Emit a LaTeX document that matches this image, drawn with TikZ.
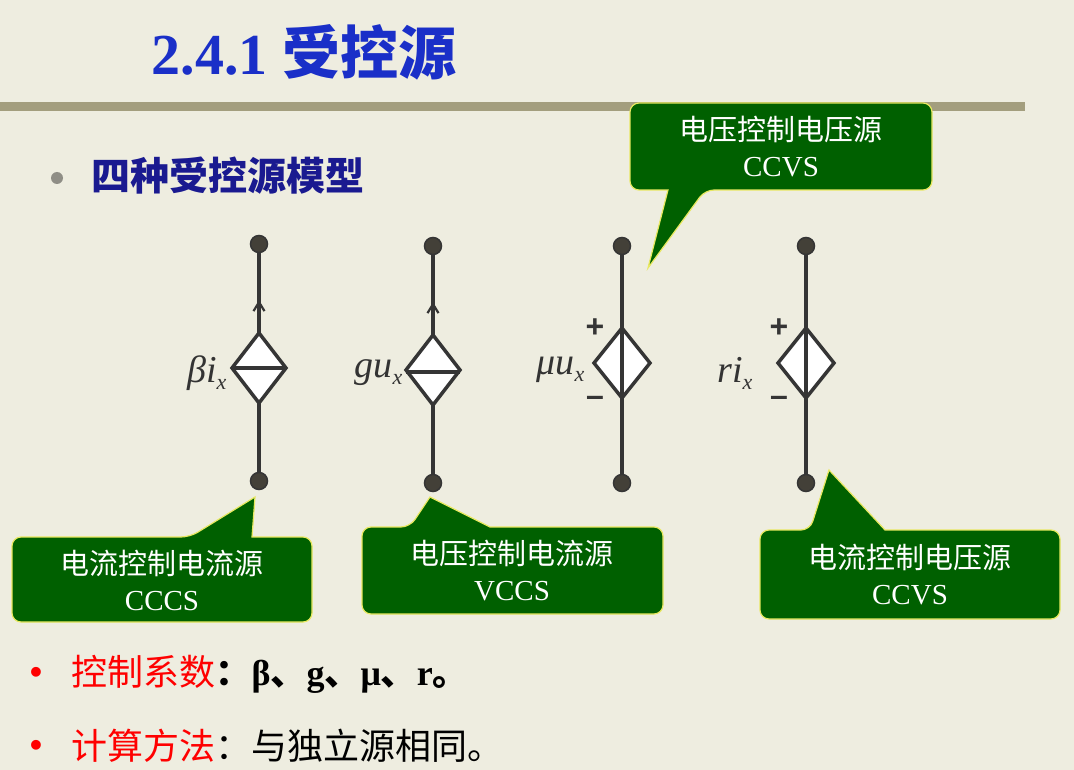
\documentclass[tikz,border=0pt]{standalone}
\usepackage{fontspec}
\setmainfont{Liberation Serif}
\newfontfamily\cjk{Noto Sans CJK SC}
\newfontfamily\lsans{Liberation Sans}
\usetikzlibrary{arrows.meta}
\definecolor{bg}{HTML}{EEEDE0}
\definecolor{bar}{HTML}{A39E7E}
\definecolor{wire}{HTML}{353535}
\definecolor{cgreen}{HTML}{006000}
\definecolor{cedge}{HTML}{E8E860}
\definecolor{tblue}{HTML}{1A2FC8}
\definecolor{dblue}{HTML}{1A1A90}
\tikzset{
  wireline/.style={draw=wire,line width=3.5pt},
  term/.style={circle,fill=black!85!yellow,draw=wire,line width=1.5pt,minimum size=17pt,inner sep=0pt},
  dsrc/.style={draw=wire,fill=white,line width=3.5pt,line join=miter},
  callout/.style={fill=cgreen,draw=cedge,line width=1.2pt},
  ctext/.style={text=white,font=\fontsize{29}{36}\selectfont,align=center},
  lab/.style={font=\fontsize{38}{38}\selectfont\itshape,text=black!80},
  sign/.style={font=\lsans\bfseries\fontsize{32}{32}\selectfont,text=wire},
  uparrow/.style={wire,line width=2.2pt,-{Straight Barb[length=9pt,width=11pt]}}
}
\newcommand{\sublab}[2]{#1\raisebox{-7pt}{\fontsize{22}{22}\selectfont #2}}
\begin{document}
\begin{tikzpicture}[x=1pt,y=-1pt]
\fill[bg] (0,0) rectangle (1074,770);
\useasboundingbox (0,0) rectangle (1074,770);
\node[anchor=west,text=tblue,font=\bfseries\fontsize{58}{58}\selectfont] (title) at (148,52) {2.4.1 {\cjk\bfseries 受控源}};
\fill[bar] (0,102) rectangle (1025,111);
\fill[black!40!bg] (57,178) circle (6);
\node[anchor=west,text=dblue,font=\cjk\bfseries\fontsize{39}{39}\selectfont] (sub) at (88,176) {四种受控源模型};

% source 1 CCCS
\node[term] (t1) at (259,244) {}; \node[term] (b1) at (259,481) {};
\draw[wireline] (t1) -- (259,335); \draw[wireline] (259,401) -- (b1);
\draw[uparrow] (259,322) -- (259,300);
\draw[dsrc] (259,333) -- (286,368) -- (259,403) -- (232,368) -- cycle;
\draw[wire,line width=3.5pt] (232,368) -- (286,368);
\node[lab,anchor=east] (l1) at (230,373) {\sublab{βi}{x}};
% source 2 VCCS
\node[term] (t2) at (433,246) {}; \node[term] (b2) at (433,483) {};
\draw[wireline] (t2) -- (433,337); \draw[wireline] (433,403) -- (b2);
\draw[uparrow] (433,324) -- (433,302);
\draw[dsrc] (433,335) -- (460,370) -- (433,405) -- (406,370) -- cycle;
\draw[wire,line width=3.5pt] (406,372) -- (460,372);
\node[lab,anchor=east] (l2) at (406,373) {\sublab{gu}{x}};
% source 3 VCVS
\node[term] (t3) at (622,246) {}; \node[term] (b3) at (622,483) {};
\draw[dsrc] (622,328) -- (650,363) -- (622,398) -- (594,363) -- cycle;
\draw[wireline] (t3) -- (b3);
\node[lab,anchor=east] (l3) at (588,370) {\sublab{μu}{x}};
\node[sign] (p3) at (595,328) {+}; \node[sign] (m3) at (595,401) {–};
% source 4 CCVS
\node[term] (t4) at (806,246) {}; \node[term] (b4) at (806,483) {};
\draw[dsrc] (806,328) -- (834,363) -- (806,398) -- (778,363) -- cycle;
\draw[wireline] (t4) -- (b4);
\node[lab,anchor=east] (l4) at (756,373) {\sublab{ri}{x}};
\node[sign] (p4) at (779,328) {+}; \node[sign] (m4) at (779,401) {–};

% callouts
\coordinate (k1) at (255,497);
\draw[callout,rounded corners=9pt] (12,537) -- (190,537) [sharp corners] -- (k1) -- (252,537) [rounded corners=9pt] -- (312,537) -- (312,622) -- (12,622) -- cycle;
\node[ctext] (c1) at (162,580) {{\cjk 电流控制电流源}\\CCCS};
\coordinate (k2) at (430,497);
\draw[callout,rounded corners=9pt] (362,527) -- (410,527) [sharp corners] -- (k2) -- (490,527) [rounded corners=9pt] -- (663,527) -- (663,614) -- (362,614) -- cycle;
\node[ctext] (c2) at (512,571) {{\cjk 电压控制电流源}\\VCCS};
\coordinate (k3) at (829,470);
\draw[callout,rounded corners=9pt] (760,530) -- (810,530) [sharp corners] -- (k3) -- (885,530) [rounded corners=9pt] -- (1060,530) -- (1060,619) -- (760,619) -- cycle;
\node[ctext] (c3) at (910,575) {{\cjk 电流控制电压源}\\CCVS};
\coordinate (k4) at (648,268);
\draw[callout,rounded corners=9pt] (630,103) -- (932,103) -- (932,190) -- (705,190) [sharp corners] -- (k4) -- (668,190) [rounded corners=9pt] -- (630,190) -- cycle;
\node[ctext] (c4) at (781,147) {{\cjk 电压控制电压源}\\CCVS};

% bottom bullets
\node[text=red,font=\lsans\bfseries\fontsize{34}{34}\selectfont] (d1) at (36,675) {•};
\node[anchor=west,font=\fontsize{36}{36}\selectfont] (e1) at (68,674) {{\cjk\color{red}控制系数}{\cjk\bfseries ：}\textbf{β{\cjk 、}g{\cjk 、}μ{\cjk 、}r{\cjk 。}}};
\node[text=red,font=\lsans\bfseries\fontsize{34}{34}\selectfont] (d2) at (36,748) {•};
\node[anchor=west,font=\fontsize{36}{36}\selectfont] (e2) at (68,746) {{\cjk\color{red}计算方法}{\cjk ：与独立源相同。}};
\end{tikzpicture}
\end{document}
